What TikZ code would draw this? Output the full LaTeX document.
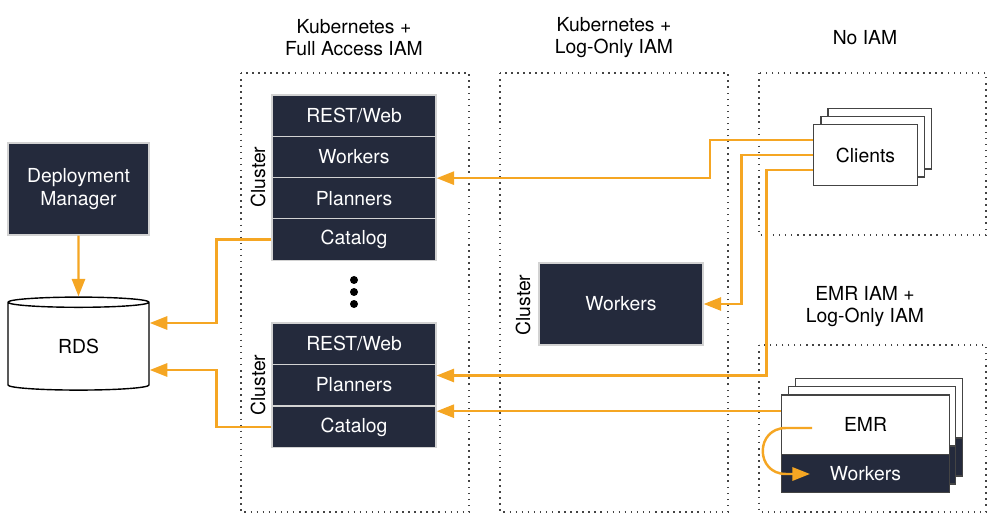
\documentclass[tikz,border=0pt]{standalone}
\usepackage{fontspec}
\setmainfont{TeX Gyre Heros}
\usetikzlibrary{arrows.meta,shapes.geometric}
\definecolor{navy}{HTML}{242A3C}
\definecolor{amber}{HTML}{F5A623}
\definecolor{edge}{HTML}{444444}
\tikzset{
  every node/.style={font=\fontsize{11}{12.2}\selectfont},
  dark/.style={draw=gray!35, line width=0.7pt, fill=navy, text=white, minimum width=3.28cm, minimum height=0.826cm, inner sep=0},
  light/.style={draw=edge, line width=0.8pt, fill=white, inner sep=0},
  frame/.style={draw=edge, line width=0.85pt, dash pattern=on 0.85pt off 2.6pt},
  link/.style={draw=amber, line width=1.4pt, -{Triangle[length=10pt,width=7.5pt]}},
}
\begin{document}
\begin{tikzpicture}[x=0.02cm,y=-0.02cm]
\useasboundingbox (0,0) rectangle (994,520);

% frames
\draw [frame] (241,73) rectangle (469,512);
\draw [frame] (500,73) rectangle (728,512);
\draw [frame] (759,73) rectangle (986,235);
\draw [frame] (759,345) rectangle (986,512);

\node [align=center] (t1) at (354,37.5) {Kubernetes +\\Full Access IAM};
\node [align=center] (t2) at (614,37.5) {Kubernetes +\\Log-Only IAM};
\node [align=center] (t3) at (865,37.5) {No IAM};
\node [align=center] (t4) at (865,306.5) {EMR IAM +\\Log-Only IAM};

% left side
\node [dark, minimum width=2.82cm, minimum height=1.84cm, align=center, font=\fontsize{11}{12.9}\selectfont] (dm) at (78.5,189) {Deployment\\Manager};
\node [cylinder, shape border rotate=90, draw=black, line width=0.8pt, fill=white, aspect=0.25,
       minimum width=2.82cm, minimum height=1.86cm, inner sep=0] (rds) at (78.5,346.5) {\raisebox{-0.1cm}{RDS}};

% first cluster
\node [dark] (rest1) at (354,115.6) {REST/Web};
\node [dark] (wrk1) at (354,156.9) {Workers};
\node [dark] (pln1) at (354,198.2) {Planners};
\node [dark] (cat1) at (354,239.5) {Catalog};
\node [rotate=90] (cl1) at (258,177) {Cluster};

\fill (354,280) circle (4);
\fill (354,292) circle (4);
\fill (354,304) circle (4);

% second cluster
\node [dark] (rest2) at (354,343.6) {REST/Web};
\node [dark] (pln2) at (354,385) {Planners};
\node [dark] (cat2) at (354,426.9) {Catalog};
\node [rotate=90] (cl2) at (258,385) {Cluster};

% log-only workers
\node [dark, minimum height=1.64cm] (wlog) at (621,304) {Workers};
\node [rotate=90] (cl3) at (523,305) {Cluster};

% clients
\draw [light] (828,108.7) rectangle ++(103.6,60.3);
\draw [light] (821,116.7) rectangle ++(103.6,60.3);
\node [light, minimum width=2.07cm, minimum height=1.21cm] (cli) at (865.5,155) {Clients};

% emr
\draw [light] (795.7,378.7) rectangle (962.7,476);
\draw [edge, line width=0.8pt, fill=navy] (795.7,438) rectangle (962.7,476);
\draw [light] (788.7,386.7) rectangle (955.7,484);
\draw [edge, line width=0.8pt, fill=navy] (788.7,446) rectangle (955.7,484);
\node [light, minimum width=3.35cm, minimum height=1.19cm] (emr) at (865.5,424.7) {EMR};
\node [dark, draw=edge, line width=0.8pt, minimum width=3.35cm, minimum height=0.76cm] (wemr) at (865.5,473.3) {Workers};

\coordinate (loopa) at (812,428);
\coordinate (loopb) at (810,474);

% connectors
\draw [link] (dm.south) -- (rds.north);
\draw [link] (cat1.west) -- ++(-1.1cm,0) |- ([yshift=0.47cm]rds.east);
\draw [link] (cat2.west) -- ++(-1.1cm,0) |- ([yshift=-0.47cm]rds.east);
\draw [link] ([yshift=0.3cm]cli.west) -- ++(-2.06cm,0) |- (wrk1.south east);
\draw [link] (cli.west) -- ++(-1.43cm,0) |- (wlog.east);
\draw [link] ([yshift=-0.3cm]cli.west) -- ++(-0.93cm,0) |- ([yshift=0.19cm]pln2.east);
\draw [link] ([yshift=0.27cm]emr.west) -- ([yshift=0.27cm]emr.west -| cat2.east);
\draw [link] (loopa) -- (786,428) .. controls (755,428) and (755,474) .. (786,474) -- (loopb);

\end{tikzpicture}
\end{document}
